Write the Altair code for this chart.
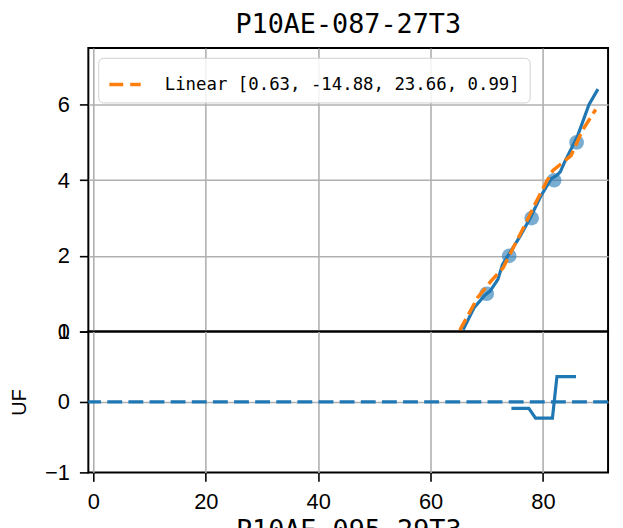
import altair as alt
import pandas as pd

# ---- data ----
point_x = [70, 74, 78, 82, 86]
point_y = [1, 2, 3, 4, 5]

curve_x = [65.8, 67.8, 69.6, 70.6, 72.0, 72.8, 73.9, 75.9, 77.7, 79.7, 81.5, 82.4, 83.1, 83.8, 86.2, 88.2, 89.8]
curve_y = [0.05, 0.64, 0.95, 1.07, 1.38, 1.77, 2.03, 2.51, 2.99, 3.60, 4.04, 4.12, 4.22, 4.46, 5.18, 6.00, 6.41]

fit_x = [65.2, 68.4, 70.8, 72.9, 74.7, 76.5, 78.5, 80.6, 81.8, 83.2, 85.0, 87.0, 89.4]
fit_y = [0.03, 0.90, 1.34, 1.68, 2.21, 2.73, 3.34, 3.95, 4.26, 4.43, 4.65, 5.31, 5.87]
fit_label = "Linear [0.63, -14.88, 23.66, 0.99]"

uf_x = [74.4, 77.5, 78.7, 81.7, 82.5, 85.9]
uf_y = [-0.09, -0.09, -0.23, -0.23, 0.36, 0.36]

x_ticks = [0, 20, 40, 60, 80]
top_y_ticks = [0, 2, 4, 6]
bot_y_ticks = [-1, 0, 1]

title_top = "P10AE-087-27T3"
title_bottom = "P10AE-095-29T3"

BLUE = "#1f77b4"
ORANGE = "#ff7f0e"

pts = pd.DataFrame({"x": point_x, "y": point_y})
curve = pd.DataFrame({"x": curve_x, "y": curve_y})
fit = pd.DataFrame({"x": fit_x, "y": fit_y, "label": [fit_label] * len(fit_x)})
uf = pd.DataFrame({"x": uf_x, "y": uf_y})
zero_df = pd.DataFrame({"y": [0]})

xscale = alt.Scale(domain=[-0.9, 91.6], nice=False, zero=False)
int_label = "datum.value < 0 ? '\u2212' + format(-datum.value, 'd') : format(datum.value, 'd')"

x_top = alt.X("x:Q", scale=xscale,
              axis=alt.Axis(values=x_ticks, labels=False, ticks=False, title=None, domain=False, grid=True))
y_top = alt.Y("y:Q", scale=alt.Scale(domain=[0, 7.5], nice=False),
              axis=alt.Axis(values=top_y_ticks, title=None, labelExpr=int_label,
                            gridOpacity={"condition": {"test": "datum.value == 0", "value": 0}, "value": 1}))

p_layer = alt.Chart(pts).mark_circle(size=220, opacity=0.6, color=BLUE).encode(x=x_top, y=y_top)
c_layer = alt.Chart(curve).mark_line(color=BLUE, strokeWidth=3.2, clip=True).encode(x=x_top, y=y_top)
f_layer = alt.Chart(fit).mark_line(strokeWidth=3.5, strokeDash=[13, 5.5], clip=True).encode(
    x=x_top, y=y_top,
    color=alt.Color("label:N", scale=alt.Scale(domain=[fit_label], range=[ORANGE]),
                    legend=alt.Legend(title=None, orient="top-left", offset=10,
                                      symbolType="stroke", symbolStrokeWidth=3.5,
                                      symbolDash=[14, 7], symbolSize=1000,
                                      labelFont="DejaVu Sans Mono", labelFontSize=17.5,
                                      labelColor="black", labelOffset=22, labelLimit=0,
                                      fillColor="rgba(255,255,255,0.85)",
                                      strokeColor="#d0d0d0", cornerRadius=5, padding=9)),
)

top = alt.layer(p_layer, c_layer, f_layer).properties(
    width=524, height=286,
    title=alt.TitleParams(title_top, font="DejaVu Sans Mono", fontSize=27, fontWeight="normal",
                          anchor="middle", frame="group", offset=9, color="black"),
)

x_bot = alt.X("x:Q", scale=xscale,
              axis=alt.Axis(values=x_ticks, title=title_bottom, titleFont="DejaVu Sans Mono",
                            titleFontSize=27, titleFontWeight="normal", titleColor="black",
                            titlePadding=6, grid=True))
y_bot = alt.Y("y:Q", scale=alt.Scale(domain=[-1, 1], nice=False),
              axis=alt.Axis(values=bot_y_ticks, title="UF", titleFont="Liberation Sans",
                            titleFontSize=20, titleFontWeight="normal", titleColor="black",
                            titlePadding=15, labelExpr=int_label,
                            gridOpacity={"condition": {"test": "datum.value != 0", "value": 0}, "value": 1}))

uf_line = alt.Chart(uf).mark_line(color=BLUE, strokeWidth=3.2).encode(x=x_bot, y=y_bot)
zero = alt.Chart(zero_df).mark_rule(color=BLUE, strokeWidth=3.3, strokeDash=[15, 6.3]).encode(y=alt.Y("y:Q"))

bottom = alt.layer(uf_line, zero).properties(width=524, height=142)

chart = alt.vconcat(top, bottom, spacing=0, bounds="flush").properties(
    padding={"left": 0, "top": 0, "right": 4, "bottom": 0}
).configure_view(
    stroke="black", strokeWidth=2
).configure_axis(
    gridColor="#b0b0b0", gridWidth=1.6, gridOpacity=1,
    labelFont="Liberation Sans", labelFontSize=22, labelColor="black",
    tickColor="black", tickSize=9, tickWidth=1.6, labelPadding=10, domain=False,
)

chart.save("out.html", embed_options={"renderer": "svg", "actions": False})
